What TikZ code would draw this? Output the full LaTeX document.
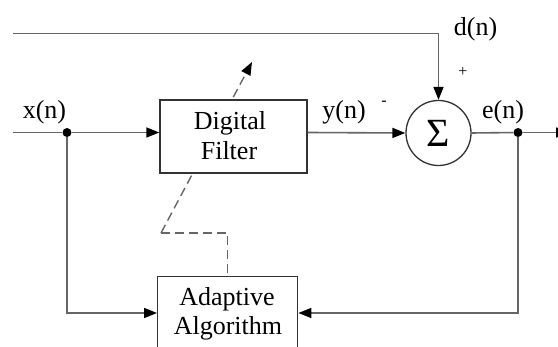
\documentclass[tikz,border=0pt]{standalone}
\usepackage{fontspec}
\setmainfont{Liberation Serif}
\usetikzlibrary{arrows.meta}
\begin{document}
\begin{tikzpicture}[x=1pt,y=-1pt,
  line/.style={draw=black!60, line width=1.6pt},
  arr/.style={line, -{Triangle[length=13pt,width=10pt,color=black]}},
  blk/.style={draw=black!80, line width=1.4pt, fill=white, inner sep=0pt},
  lbl/.style={font=\fontsize{26}{30}\selectfont, inner sep=0pt, anchor=base},
  sml/.style={font=\fontsize{16}{18}\selectfont, inner sep=0pt},
  dashline/.style={draw=black!60, line width=1.4pt, dash pattern=on 9pt off 5pt},
  dotn/.style={circle, fill=black, inner sep=0pt, minimum size=9pt}
]
\useasboundingbox (0,0) rectangle (558,347);
\clip (0,0) rectangle (558,347);
\fill[white] (0,0) rectangle (558,347);

% named points
\coordinate (inL) at (13,132.5);
\coordinate (dL) at (13,33.5);
\coordinate (dC) at (438.5,33.5);
\coordinate (out) at (569,132.5);
\coordinate (fbL) at (67,313);
\coordinate (fbR) at (518,313);
\coordinate (dA) at (161,233);
\coordinate (dT) at (252,62);

% dashed adaptation arrow (passes behind the filter box)
\draw[dashline, -{Triangle[length=13pt,width=10pt,color=black]}] (dA) -- (dT);

% blocks
\node[blk, minimum width=147pt, minimum height=73pt] (df) at (233.5,136.5) {};
\node[lbl] (dft) at (230,130) {Digital};
\node[lbl] (dff) at (229,160) {Filter};

\node[blk, minimum width=140pt, minimum height=100pt, anchor=north west] (aa) at (157,276) {};
\node[lbl] (aat) at (227,306) {Adaptive};
\node[lbl] (aab) at (228,335) {Algorithm};

\node[circle, draw=black!80, line width=1.3pt, minimum size=65pt, inner sep=0pt] (sum) at (438.5,133) {\fontsize{40}{40}\selectfont Σ};

% junction dots
\node[dotn] (j1) at (67,132.5) {};
\node[dotn] (j2) at (518,132.5) {};

% connectors
\draw[line] (inL) -- (j1);
\draw[arr] (j1) -- (df.west |- j1);
\draw[arr] (df.east |- j1) -- (sum.west);
\draw[arr] (dL) -- (dC) -- (sum.north);
\draw[line] (sum.east) -- (j2);
\draw[arr] (j2) -- (out);
\draw[arr] (j1) |- (aa.west |- fbL);
\draw[arr] (j2) |- (aa.east |- fbR);
\draw[dashline] (dA) -| (aa.north);

% labels
\node[lbl] (xl) at (44.5,119) {x(n)};
\node[lbl] (yl) at (344,119) {y(n)};
\node[lbl] (el) at (503,119) {e(n)};
\node[lbl] (dl) at (475.5,36) {d(n)};
\node[sml] (pl) at (463,72) {+};
\node[sml] (ml) at (384,103) {-};
\end{tikzpicture}
\end{document}
